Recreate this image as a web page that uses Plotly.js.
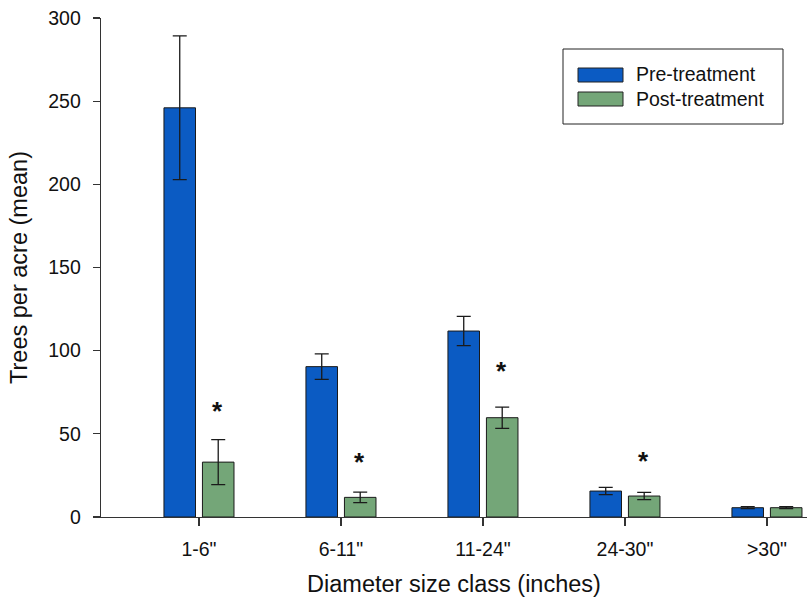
<!DOCTYPE html>
<html>
<head>
<meta charset="utf-8">
<script src="https://cdn.plot.ly/plotly-3.0.1.min.js"></script>
<style>html,body{margin:0;padding:0;background:#fff;}</style>
</head>
<body>
<div id="chart" style="width:807px;height:601px;"></div>
<script>
const categories = ['1-6"', '6-11"', '11-24"', '24-30"', '>30"'];
const preValues = [246, 90.4, 111.8, 15.6, 5.6];
const preErrors = [43.2, 7.7, 8.8, 2.2, 0.6];
const postValues = [33, 11.8, 59.7, 12.6, 5.6];
const postErrors = [13.5, 3.1, 6.4, 2.2, 0.6];
const starCategories = ['1-6"', '6-11"', '11-24"', '24-30"'];
const starValues = [64, 33, 87.8, 33.9];
const seriesNames = ['Pre-treatment', 'Post-treatment'];

const FONT = 'Liberation Sans, Arial, sans-serif';
const BLUE = '#0b5bc3';
const GREEN = '#74a678';

const errStyle = {type: 'data', visible: true, color: '#1a1a1a', thickness: 1.3, width: 7};

const traces = [
  {type: 'bar', name: seriesNames[0], x: categories, y: preValues,
   error_y: Object.assign({array: preErrors}, errStyle),
   marker: {color: BLUE, line: {color: '#1a1a1a', width: 1}}, showlegend: false},
  {type: 'bar', name: seriesNames[1], x: categories, y: postValues,
   error_y: Object.assign({array: postErrors}, errStyle),
   marker: {color: GREEN, line: {color: '#1a1a1a', width: 1}}, showlegend: false}
];

const L = 101, T = 18, W = 706, H = 499;
const px2x = p => (p - L) / W;
const px2y = p => (T + H - p) / H;

const annotations = starCategories.map((c, i) => ({
  x: c, y: starValues[i], xref: 'x', yref: 'y', text: '<b>*</b>',
  showarrow: false, xshift: 19, font: {family: FONT, size: 26, color: '#111'}
}));
annotations.push(
  {xref: 'paper', yref: 'paper', x: px2x(634), y: px2y(74.5), xanchor: 'left', yanchor: 'middle',
   text: seriesNames[0], showarrow: false, font: {family: FONT, size: 19.5, color: '#111'}},
  {xref: 'paper', yref: 'paper', x: px2x(634), y: px2y(98.5), xanchor: 'left', yanchor: 'middle',
   text: seriesNames[1], showarrow: false, font: {family: FONT, size: 19.5, color: '#111'}}
);

const shapes = [
  {type: 'rect', xref: 'paper', yref: 'paper', x0: px2x(563), x1: px2x(783), y0: px2y(124), y1: px2y(49),
   line: {color: '#222', width: 1}, fillcolor: 'rgba(0,0,0,0)'},
  {type: 'rect', xref: 'paper', yref: 'paper', x0: px2x(578), x1: px2x(623), y0: px2y(82), y1: px2y(68),
   line: {color: '#222', width: 1}, fillcolor: BLUE},
  {type: 'rect', xref: 'paper', yref: 'paper', x0: px2x(578), x1: px2x(623), y0: px2y(106), y1: px2y(92),
   line: {color: '#222', width: 1}, fillcolor: GREEN}
];

const layout = {
  width: 807, height: 601,
  margin: {l: L, r: 807 - L - W, t: T, b: 601 - T - H},
  paper_bgcolor: '#fff', plot_bgcolor: '#fff',
  font: {family: FONT, size: 19.5, color: '#111'},
  barmode: 'group', bargap: 0.458, bargroupgap: 0.18,
  showlegend: false,
  xaxis: {
    range: [-0.690, 4.282], showgrid: false, zeroline: false,
    showline: true, linecolor: '#333', linewidth: 1.3,
    ticks: 'outside', ticklen: 8, tickcolor: '#333', tickwidth: 1.3,
    ticklabelstandoff: 6,
    tickfont: {family: FONT, size: 19.5, color: '#111'},
    title: {text: 'Diameter size class (inches)', font: {family: FONT, size: 23.5, color: '#111'}, standoff: 16}
  },
  yaxis: {
    range: [0, 300], dtick: 50, showgrid: false, zeroline: false,
    showline: true, linecolor: '#333', linewidth: 1.3,
    ticks: 'outside', ticklen: 7, tickcolor: '#333', tickwidth: 1.3,
    ticklabelstandoff: 8,
    tickfont: {family: FONT, size: 19.5, color: '#111'},
    title: {text: 'Trees per acre (mean)', font: {family: FONT, size: 23.5, color: '#111'}, standoff: 14}
  },
  annotations: annotations,
  shapes: shapes
};

Plotly.newPlot('chart', traces, layout, {displayModeBar: false, staticPlot: true});
</script>
</body>
</html>
